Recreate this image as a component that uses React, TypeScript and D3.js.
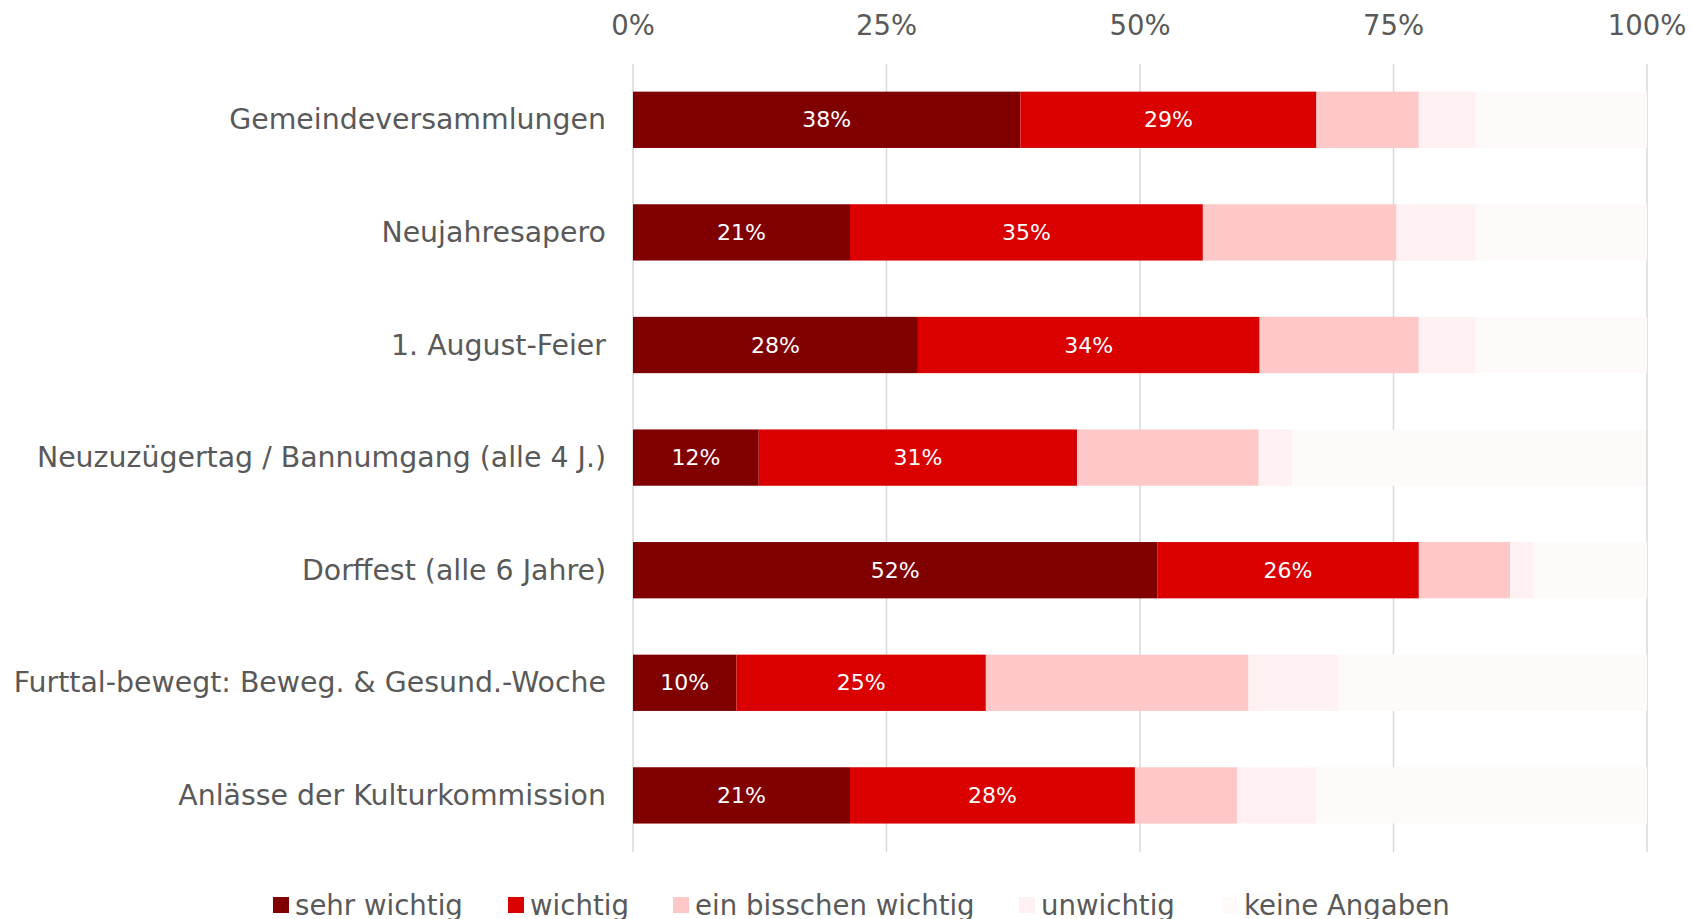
import React from "react";
import * as d3 from "d3";

const categories = [
  "Gemeindeversammlungen",
  "Neujahresapero",
  "1. August-Feier",
  "Neuzuzügertag / Bannumgang (alle 4 J.)",
  "Dorffest (alle 6 Jahre)",
  "Furttal-bewegt: Beweg. & Gesund.-Woche",
  "Anlässe der Kulturkommission",
];

const seriesNames = ["sehr wichtig", "wichtig", "ein bisschen wichtig", "unwichtig", "keine Angaben"];

const sehrWichtig = [38.2, 21.4, 28.1, 12.4, 51.7, 10.2, 21.4];
const wichtig = [29.2, 34.8, 33.7, 31.4, 25.8, 24.6, 28.1];
const einBisschen = [10.1, 19.1, 15.7, 17.9, 9.0, 25.9, 10.1];
const unwichtig = [5.6, 7.8, 5.6, 3.3, 2.3, 8.9, 7.8];
const keineAngaben = [16.9, 16.9, 16.9, 34.9, 11.2, 30.4, 32.6];

const seriesColors = ["#800000", "#DA0000", "#FFC8C8", "#FFF1F1", "#FFFAFA"];
const labeledSeries = [true, true, false, false, false];

const tickValues = [0, 25, 50, 75, 100];

const W = 1692;
const H = 919;
const FONT = "'DejaVu Sans', Verdana, sans-serif";

export default function App() {
  const x = d3.scaleLinear().domain([0, 100]).range([633, 1647]);
  const y = d3.scaleBand<string>().domain(categories).range([63.5, 851.7]).paddingInner(0.5).paddingOuter(0.25);

  const rows = categories.map((c, i) => ({
    cat: c,
    s0: sehrWichtig[i],
    s1: wichtig[i],
    s2: einBisschen[i],
    s3: unwichtig[i],
    s4: keineAngaben[i],
  }));
  const keys = ["s0", "s1", "s2", "s3", "s4"];
  const stacked = d3.stack<any>().keys(keys)(rows);
  const fmt = (v: number) => `${Math.round(v)}%`;

  return (
    <svg width={W} height={H} style={{ position: "absolute", left: 0, top: 0, background: "#fff" }}>
      {tickValues.map((t) => (
        <g key={t}>
          <line x1={x(t)} x2={x(t)} y1={64} y2={852} stroke="#D9D9D9" strokeWidth={1.5} />
          <text x={x(t)} y={25} textAnchor="middle" dominantBaseline="central" fontFamily={FONT} fontSize={27.5} fill="#595959">
            {t}%
          </text>
        </g>
      ))}
      {stacked.map((layer, si) => (
        <g key={si}>
          {layer.map((d, ri) => {
            const cat = categories[ri];
            const y0 = y(cat)!;
            const bw = y.bandwidth();
            const x0 = x(d[0]);
            const x1 = x(d[1]);
            return (
              <g key={ri}>
                <rect x={x0} y={y0} width={x1 - x0} height={bw} fill={seriesColors[si]} />
                {labeledSeries[si] && (
                  <text
                    x={(x0 + x1) / 2}
                    y={y0 + bw / 2}
                    textAnchor="middle"
                    dominantBaseline="central"
                    fontFamily={FONT}
                    fontSize={22}
                    fill="#fff"
                  >
                    {fmt(d[1] - d[0])}
                  </text>
                )}
              </g>
            );
          })}
        </g>
      ))}
      {categories.map((c) => (
        <text
          key={c}
          x={606}
          y={y(c)! + y.bandwidth() / 2}
          textAnchor="end"
          dominantBaseline="central"
          fontFamily={FONT}
          fontSize={28.4}
          fill="#595959"
        >
          {c}
        </text>
      ))}
      {seriesNames.map((n, i) => {
        const sx = [273, 508, 673, 1019, 1222][i];
        return (
          <g key={n}>
            <rect x={sx} y={897} width={16} height={16} fill={seriesColors[i]} />
            <text x={sx + 22} y={905} dominantBaseline="central" fontFamily={FONT} fontSize={27.6} fill="#595959">
              {n}
            </text>
          </g>
        );
      })}
    </svg>
  );
}
